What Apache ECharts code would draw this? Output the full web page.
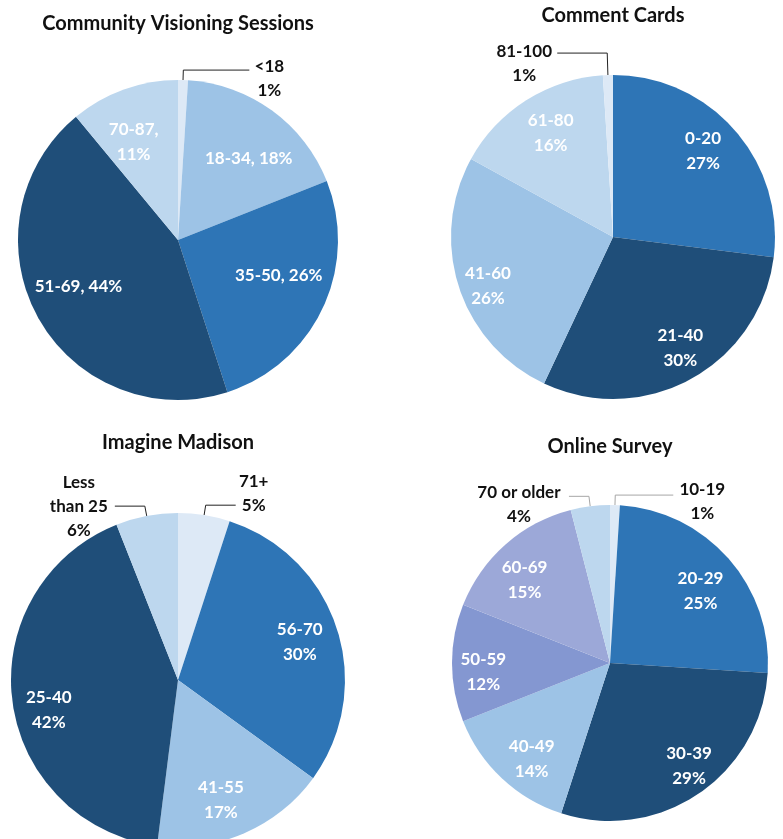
<!DOCTYPE html>
<html>
<head>
<meta charset="utf-8">
<script src="https://cdn.jsdelivr.net/npm/echarts@6/dist/echarts.min.js"></script>
<style>
html,body{margin:0;padding:0;background:#fff;}
#c{width:783px;height:839px;}
</style>
</head>
<body>
<div id="c"></div>
<script>
// ---- Data ----
const cvsTitle = 'Community Visioning Sessions';
const cvsCategories = ['<18', '18-34', '35-50', '51-69', '70-87'];
const cvsValues = [1, 18, 26, 44, 11];

const cardTitle = 'Comment Cards';
const cardCategories = ['0-20', '21-40', '41-60', '61-80', '81-100'];
const cardValues = [27, 30, 26, 16, 1];

const imTitle = 'Imagine Madison';
const imCategories = ['71+', '56-70', '41-55', '25-40', 'Less than 25'];
const imValues = [5, 30, 17, 42, 6];

const osTitle = 'Online Survey';
const osCategories = ['10-19', '20-29', '30-39', '40-49', '50-59', '60-69', '70 or older'];
const osValues = [1, 25, 29, 14, 12, 15, 4];

// ---- Styles ----
const FONT = 'Lato';
const C = {vlight:'#dde9f6', light2:'#bdd7ee', light:'#9dc3e6', mid:'#2e75b6', dark:'#1f4e79', purple:'#8497d1', lav:'#9ca8d8'};

const pies = [
  {
    title: cvsTitle, cats: cvsCategories, vals: cvsValues,
    center: [178, 240], r: 160, titleY: 14, innerRatio: 0.34,
    colors: [C.vlight, C.light, C.mid, C.dark, C.light2],
    sep: ['\n', ', ', ', ', ', ', ',\n'],
    offsets: [null, [6, 8], [1, -11], [-3, -7], [-7, 6]],
    outside: {0: {length: 10, length2: 66, width: 32, padding: [16, 0, 0, 0]}},
    lineColor: '#222'
  },
  {
    title: cardTitle, cats: cardCategories, vals: cardValues,
    center: [613, 237], r: 162, titleY: 6, innerRatio: 0.56,
    colors: [C.mid, C.dark, C.light, C.light2, C.vlight],
    sep: ['\n', '\n', '\n', '\n', '\n'],
    offsets: [[-7, 0], [5, -2], [-2, 9], [7, 5], null],
    outside: {4: {length: 22, length2: 50, width: 58, padding: [20, 0, 0, 0]}},
    lineColor: '#222'
  },
  {
    title: imTitle, cats: imCategories, vals: imValues,
    center: [178, 680], r: 167, titleY: 433, innerRatio: 0.56,
    colors: [C.vlight, C.mid, C.light, C.dark, C.light2],
    sep: ['\n', '\n', '\n', '\n', '\n'],
    offsets: [null, [-5, 3], [-10, -2], [3, 13], null],
    display: {'Less than 25': 'Less\nthan 25'},
    outside: {
      0: {length: 10, length2: 30, width: 28, padding: [0, 0, 24, 0]},
      4: {length: 10, length2: 30, width: 64, padding: [0, 0, 0, 0]}
    },
    lineColor: '#222'
  },
  {
    title: osTitle, cats: osCategories, vals: osValues,
    center: [610, 663], r: 158, titleY: 437, innerRatio: 0.54,
    colors: [C.vlight, C.mid, C.dark, C.light, C.purple, C.lav, C.light2],
    sep: ['\n', '\n', '\n', '\n', '\n', '\n', '\n'],
    offsets: [null, [-3, 10], [9, 0], [7, 5], [-2, 9], [-3, 11], null],
    outside: {
      0: {length: 10, length2: 58, width: 50, padding: [12, 0, 0, 0]},
      6: {length: 10, length2: 20, width: 92, padding: [16, 0, 0, 0]}
    },
    lineColor: '#a6a6a6'
  }
];

const titles = [];
const series = [];

pies.forEach((p) => {
  titles.push({
    text: p.title, left: p.center[0], top: p.titleY, textAlign: 'center', padding: 0,
    textStyle: {fontFamily: FONT, fontWeight: 'bold', fontSize: 20, color: '#111'}
  });
  const name = (n) => (p.display && p.display[n]) || n;
  // Main pie: slices + outside labels for small slices
  const mainData = p.cats.map((cat, i) => {
    const o = p.outside[i];
    const item = {name: cat, value: p.vals[i], itemStyle: {color: p.colors[i]}};
    if (o) {
      item.label = {
        show: true, position: 'outside',
        formatter: '{t|' + name(cat).split('\n').join('}\n{t|') + '}\n{t|' + p.vals[i] + '%}',
        padding: o.padding,
        rich: {t: {width: o.width, align: 'center', fontFamily: FONT, fontWeight: 'bold', fontSize: 17, color: '#111', lineHeight: 24}}
      };
      item.labelLine = {show: true, length: o.length, length2: o.length2, lineStyle: {color: p.lineColor, width: 1}};
    } else {
      item.label = {show: false};
      item.labelLine = {show: false};
    }
    return item;
  });
  series.push({
    type: 'pie', center: p.center, radius: p.r, startAngle: 90, clockwise: true,
    avoidLabelOverlap: false, animation: false, silent: true,
    label: {distanceToLabelLine: 4},
    itemStyle: {borderWidth: 0},
    data: mainData
  });
  // Label overlay ring: transparent, used to place inside labels further out
  const labelData = p.cats.map((cat, i) => {
    const isOut = !!p.outside[i];
    return {
      name: cat, value: p.vals[i],
      itemStyle: {color: 'rgba(0,0,0,0)'},
      label: isOut ? {show: false} : {
        show: true, position: 'inside',
        offset: p.offsets[i] || [0, 0],
        formatter: name(cat) + p.sep[i] + p.vals[i] + '%',
        fontFamily: FONT, fontWeight: 'bold', fontSize: 17, color: '#fff', lineHeight: 25
      },
      labelLine: {show: false}
    };
  });
  series.push({
    type: 'pie', center: p.center, radius: [p.r * p.innerRatio, p.r], startAngle: 90, clockwise: true,
    avoidLabelOverlap: false, animation: false, silent: true,
    itemStyle: {borderWidth: 0},
    data: labelData
  });
});

const chart = echarts.init(document.getElementById('c'), null, {renderer: 'canvas'});
chart.setOption({
  backgroundColor: '#fff',
  animation: false,
  title: titles,
  series: series
});
</script>
</body>
</html>
